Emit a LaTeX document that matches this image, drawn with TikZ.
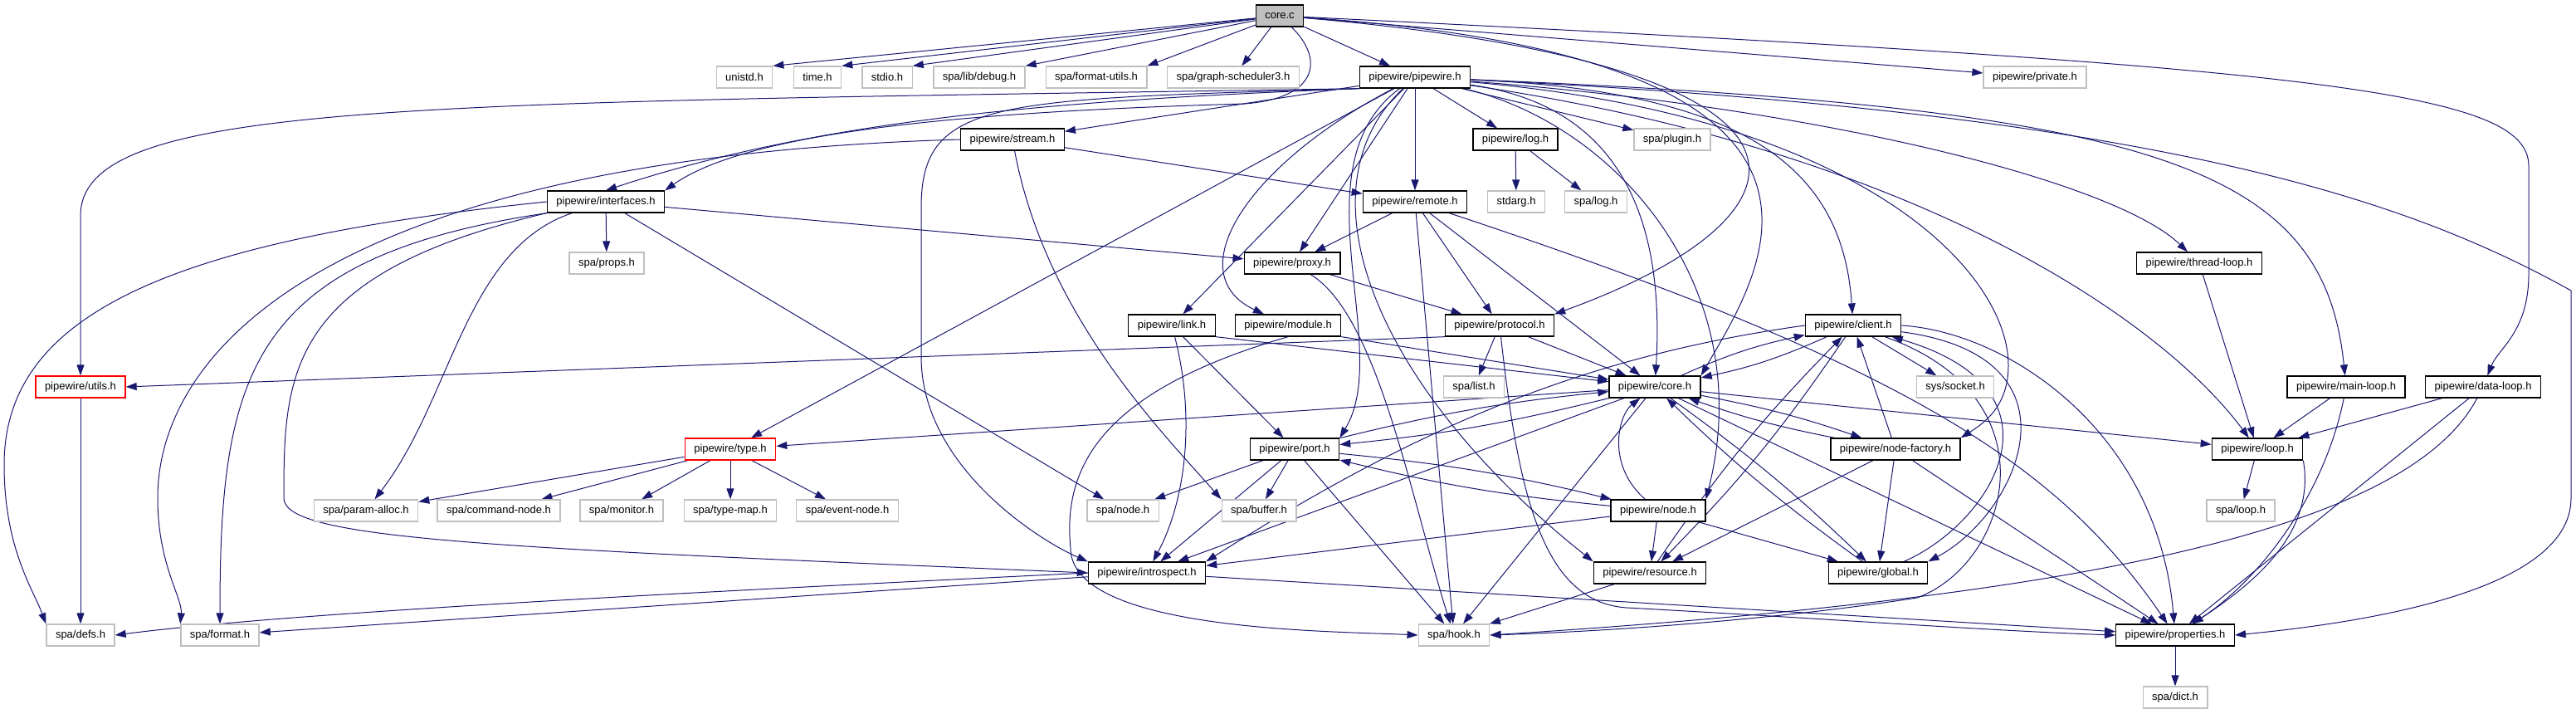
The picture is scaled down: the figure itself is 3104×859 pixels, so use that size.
\documentclass[tikz,border=0pt]{standalone}
\usepackage{fontspec}
\setmainfont{Liberation Sans}
\usetikzlibrary{arrows.meta, backgrounds}
\definecolor{cedge}{RGB}{25,25,112}
\definecolor{cgris}{RGB}{191,191,191}
\definecolor{crojo}{RGB}{255,0,0}

\begin{document}
\begin{tikzpicture}[x=1pt, y=-1pt, font=\fontsize{13}{15}\selectfont, >={Triangle[length=13pt, width=9pt]},
    hdr/.style={draw=black, line width=1.3pt, fill=white, inner xsep=11pt, inner ysep=0pt, minimum height=26pt},
    sys/.style={hdr, draw=cgris},
    cut/.style={hdr, draw=crojo},
    src/.style={hdr, fill=cgris},
    inc/.style={->, cedge, line width=1pt}]

  \useasboundingbox (0,0) rectangle (3104,859);

  % filas 1-3
  \node[src] (corec) at (1542,19) {core.c};
  \node[sys] (unistd) at (897,93) {unistd.h};
  \node[sys] (timeh) at (985,93) {time.h};
  \node[sys] (stdioh) at (1069,93) {stdio.h};
  \node[sys] (debug) at (1180,93) {spa/lib/debug.h};
  \node[sys] (fmtutil) at (1321,93) {spa/format-utils.h};
  \node[sys] (gsched) at (1486,93) {spa/graph-scheduler3.h};
  \node[hdr] (pw) at (1705,93) {pipewire/pipewire.h};
  \node[sys] (private) at (2452,93) {pipewire/private.h};
  \node[hdr] (stream) at (1220,168) {pipewire/stream.h};
  \node[hdr] (logh) at (1826,168) {pipewire/log.h};
  \node[sys] (plugin) at (2015,168) {spa/plugin.h};

  % filas 4-6
  \node[hdr] (iface) at (730,243) {pipewire/interfaces.h};
  \node[hdr] (remote) at (1705,243) {pipewire/remote.h};
  \node[sys] (stdarg) at (1827,243) {stdarg.h};
  \node[sys] (spalog) at (1923,243) {spa/log.h};
  \node[sys] (sprops) at (731,317) {spa/props.h};
  \node[hdr] (proxy) at (1557,317) {pipewire/proxy.h};
  \node[hdr] (tloop) at (2650,317) {pipewire/thread-loop.h};
  \node[hdr] (link) at (1412,392) {pipewire/link.h};
  \node[hdr] (module) at (1552,392) {pipewire/module.h};
  \node[hdr] (proto) at (1807,392) {pipewire/protocol.h};
  \node[hdr] (client) at (2233,392) {pipewire/client.h};

  % filas 7-9
  \node[cut] (utils) at (97,466) {pipewire/utils.h};
  \node[sys] (list) at (1776,466) {spa/list.h};
  \node[hdr] (core) at (1994,466) {pipewire/core.h};
  \node[sys] (socket) at (2356,466) {sys/socket.h};
  \node[hdr] (mloop) at (2827,466) {pipewire/main-loop.h};
  \node[hdr] (dloop) at (2992,466) {pipewire/data-loop.h};
  \node[cut] (type) at (880,541) {pipewire/type.h};
  \node[hdr] (port) at (1560,541) {pipewire/port.h};
  \node[hdr] (nfact) at (2284,541) {pipewire/node-factory.h};
  \node[hdr] (lp) at (2720,541) {pipewire/loop.h};
  \node[sys] (palloc) at (441,615) {spa/param-alloc.h};
  \node[sys] (cmdnode) at (601,615) {spa/command-node.h};
  \node[sys] (monitor) at (749,615) {spa/monitor.h};
  \node[sys] (tmap) at (880,615) {spa/type-map.h};
  \node[sys] (evnode) at (1021,615) {spa/event-node.h};
  \node[sys] (snode) at (1353,615) {spa/node.h};
  \node[sys] (buffer) at (1517,615) {spa/buffer.h};
  \node[hdr] (nodeh) at (1998,615) {pipewire/node.h};
  \node[sys] (sloop) at (2700,615) {spa/loop.h};

  % filas 10-12
  \node[hdr] (intro) at (1382,690) {pipewire/introspect.h};
  \node[hdr] (res) at (1988,690) {pipewire/resource.h};
  \node[hdr] (glob) at (2263,690) {pipewire/global.h};
  \node[sys] (defs) at (97,765) {spa/defs.h};
  \node[sys] (format) at (265,765) {spa/format.h};
  \node[sys] (hook) at (1752,765) {spa/hook.h};
  \node[hdr] (prop) at (2621,765) {pipewire/properties.h};
  \node[sys] (dict) at (2621,840) {spa/dict.h};

  \begin{scope}[on background layer]
  % core.c
  \draw[inc] (corec) -- (unistd.north east);
  \draw[inc] (corec) -- (timeh.north east);
  \draw[inc] (corec) -- (stdioh.north east);
  \draw[inc] (corec) -- (debug.north east);
  \draw[inc] (corec) -- (fmtutil.north east);
  \draw[inc] (corec) -- (gsched);
  \draw[inc] (corec) -- (pw);
  \draw[inc] (corec) -- (private);
  \draw[inc] (corec) .. controls (1595,70) and (1590,118) .. (1500,125) .. controls (1150,135) and (900,160) .. (iface.north east);
  \draw[inc] (corec) .. controls (2250,80) and (2200,260) .. (proto.north east);
  \draw[inc] (corec) .. controls (2300,70) and (2120,330) .. (core.north east);
  \draw[inc] (corec) .. controls (2800,80) and (3047,110) .. (3047,200) -- (3047,330) .. controls (3047,400) and (3010,420) .. (dloop);

  % pipewire.h
  \draw[inc] (pw) -- (stream);
  \draw[inc] (pw) -- (logh);
  \draw[inc] (pw) -- (plugin);
  \draw[inc] (pw) -- (remote);
  \draw[inc] (pw) -- (proxy);
  \draw[inc] (pw) -- (link);
  \draw[inc] (pw) -- (type);
  \draw[inc] (pw.south west) .. controls (1300,120) and (1000,140) .. (iface.north);
  \draw[inc] (pw.south west) .. controls (500,125) and (97,120) .. (97,260) -- (utils);
  \draw[inc] (pw.south west) .. controls (1200,120) and (1110,118) .. (1110,250) -- (1110,430) .. controls (1110,560) and (1250,650) .. (intro.north west);
  \draw[inc] (pw) .. controls (1500,200) and (1420,330) .. (module);
  \draw[inc] (pw) .. controls (1560,200) and (1680,420) .. (port.north east);
  \draw[inc] (pw) .. controls (1560,230) and (1660,470) .. (res.north west);
  \draw[inc] (pw) .. controls (1900,120) and (2010,200) .. (core);
  \draw[inc] (pw) .. controls (1950,150) and (2120,350) .. (nodeh.north east);
  \draw[inc] (pw) .. controls (2100,110) and (2220,200) .. (client);
  \draw[inc] (pw) .. controls (2250,140) and (2420,330) .. (2420,440) .. controls (2420,490) and (2390,510) .. (nfact.north east);
  \draw[inc] (pw) .. controls (2200,130) and (2550,220) .. (tloop);
  \draw[inc] (pw) .. controls (2300,180) and (2600,380) .. (lp);
  \draw[inc] (pw) .. controls (2600,130) and (2800,200) .. (mloop);
  \draw[inc] (pw) .. controls (2600,135) and (2900,240) .. (3098,350) -- (3098,600) .. controls (3098,700) and (2900,745) .. (prop.east);

  % stream, log, interfaces
  \draw[inc] (stream) -- (remote);
  \draw[inc] (stream) .. controls (1260,380) and (1400,520) .. (buffer.north west);
  \draw[inc] (stream.west) .. controls (400,190) and (190,420) .. (190,600) .. controls (190,680) and (220,720) .. (format.north west);
  \draw[inc] (logh) -- (stdarg);
  \draw[inc] (logh) -- (spalog);
  \draw[inc] (iface) -- (sprops);
  \draw[inc] (iface) -- (proxy);
  \draw[inc] (iface) -- (snode);
  \draw[inc] (iface) .. controls (560,300) and (545,480) .. (palloc);
  \draw[inc] (iface.west) .. controls (200,290) and (5,380) .. (5,560) .. controls (5,660) and (40,710) .. (defs.north west);
  \draw[inc] (iface.south west) .. controls (300,310) and (265,450) .. (format);
  \draw[inc] (iface.south west) .. controls (345,330) and (342,450) .. (342,600) .. controls (342,650) and (600,660) .. (intro.west);

  % remote, proxy, link, module, protocol
  \draw[inc] (remote) -- (proxy);
  \draw[inc] (remote) -- (proto);
  \draw[inc] (remote) -- (core);
  \draw[inc] (remote) -- (hook);
  \draw[inc] (remote) .. controls (2300,440) and (2480,560) .. (prop);
  \draw[inc] (proxy) -- (proto);
  \draw[inc] (proxy) .. controls (1660,380) and (1700,600) .. (hook);
  \draw[inc] (link.south east) -- (core);
  \draw[inc] (link) -- (port);
  \draw[inc] (link) .. controls (1440,500) and (1430,600) .. (intro);
  \draw[inc] (module.south east) -- (core);
  \draw[inc] (module.south) .. controls (1330,470) and (1280,560) .. (1290,660) .. controls (1290,760) and (1600,760) .. (hook.west);
  \draw[inc] (proto.south west) -- (utils.east);
  \draw[inc] (proto) -- (list);
  \draw[inc] (proto) -- (core);
  \draw[inc] (proto) .. controls (1830,600) and (1860,725) .. (1960,732) .. controls (2200,745) and (2400,760) .. (prop.west);

  % client
  \draw[inc] (client) -- (socket);
  \draw[inc] (client.west) .. controls (1900,430) and (1700,520) .. (intro.north east);
  \draw[inc] (client.east) .. controls (2420,400) and (2600,520) .. (prop);
  \draw[inc] (client) .. controls (2480,480) and (2420,680) .. (2310,720) .. controls (2150,745) and (1950,760) .. (hook.east);
  \draw[inc] (client) .. controls (2520,430) and (2430,620) .. (glob.north east);
  \draw[inc] (glob) .. controls (2400,630) and (2500,470) .. (client);
  \draw[inc] (client) to[bend left=5] (res);
  \draw[inc] (res) to[bend left=5] (client);

  % core.h
  \draw[inc] (core) to[bend left=6] (client);
  \draw[inc] (client) to[bend left=6] (core);
  \draw[inc] (core) to[bend left=4] (port);
  \draw[inc] (port) to[bend left=4] (core);
  \draw[inc] (core) to[bend left=4] (nfact);
  \draw[inc] (nfact) to[bend left=4] (core);
  \draw[inc] (core) to[bend left=4] (glob);
  \draw[inc] (glob) to[bend left=4] (core);
  \draw[inc] (core) -- (type);
  \draw[inc] (core) -- (intro);
  \draw[inc] (core) -- (hook);
  \draw[inc] (core) -- (prop);
  \draw[inc] (core) -- (lp);

  % type.h
  \draw[inc] (type) -- (palloc);
  \draw[inc] (type) -- (cmdnode);
  \draw[inc] (type) -- (monitor);
  \draw[inc] (type) -- (tmap);
  \draw[inc] (type) -- (evnode);

  % port, node, node-factory
  \draw[inc] (port) -- (snode);
  \draw[inc] (port) -- (buffer);
  \draw[inc] (port) -- (intro);
  \draw[inc] (port) -- (hook);
  \draw[inc] (port) to[bend left=4] (nodeh);
  \draw[inc] (nodeh) to[bend left=4] (port);
  \draw[inc] (nodeh) -- (intro);
  \draw[inc] (nodeh) -- (res);
  \draw[inc] (nodeh) -- (glob);
  \draw[inc] (nodeh) .. controls (1935,560) and (1950,500) .. (core);
  \draw[inc] (nfact) -- (res);
  \draw[inc] (nfact) -- (glob);
  \draw[inc] (nfact) -- (prop);
  \draw[inc] (nfact) -- (client);

  % loops
  \draw[inc] (tloop) -- (lp);
  \draw[inc] (mloop) -- (lp);
  \draw[inc] (mloop) .. controls (2800,600) and (2720,700) .. (prop);
  \draw[inc] (dloop) -- (lp);
  \draw[inc] (dloop) -- (prop);
  \draw[inc] (dloop) .. controls (2900,640) and (2500,720) .. (hook.east);
  \draw[inc] (lp) -- (sloop);
  \draw[inc] (lp.south east) .. controls (2790,640) and (2720,700) .. (prop);

  % introspect, resource, properties, utils
  \draw[inc] (intro.west) .. controls (800,715) and (350,738) .. (defs.east);
  \draw[inc] (intro) -- (format);
  \draw[inc] (intro) -- (prop);
  \draw[inc] (res) -- (hook);
  \draw[inc] (prop) -- (dict);
  \draw[inc] (utils) -- (defs);
  \end{scope}
\end{tikzpicture}
\end{document}
